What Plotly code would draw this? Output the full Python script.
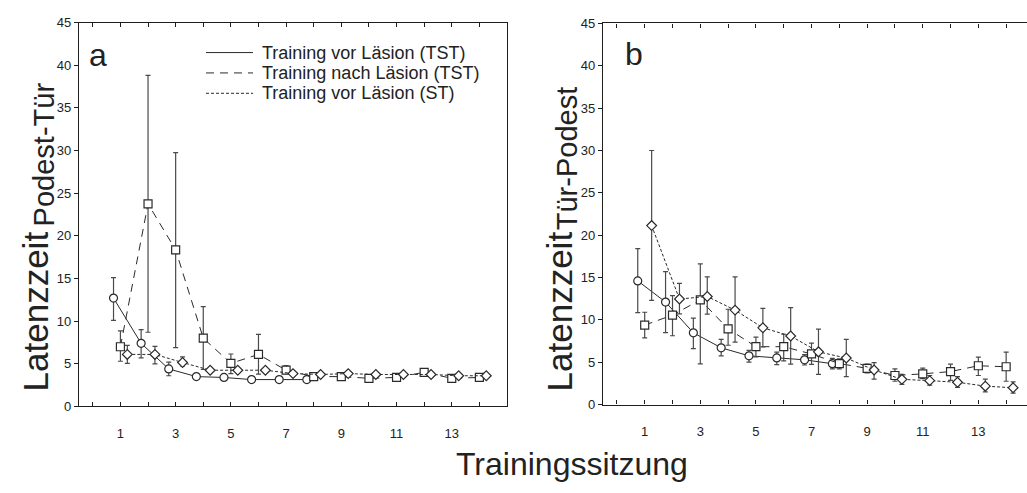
import plotly.graph_objects as go

W, H = 1027, 493

# ---------------- data ----------------
sessions_pre = [1, 2, 3, 4, 5, 6, 7, 8]
sessions_all = list(range(1, 15))

# panel a: Latenzzeit Podest-Tür
a_vor_tst = [12.7, 7.4, 4.4, 3.5, 3.4, 3.15, 3.15, 3.15]
a_vor_tst_hi = [15.1, 9.0, 5.2, 3.7, 3.6, 3.35, 3.35, 3.35]
a_vor_tst_lo = [10.1, 5.7, 3.6, 3.3, 3.2, 2.95, 2.95, 2.95]

a_nach_tst = [7.0, 23.75, 18.35, 8.0, 5.05, 6.1, 4.25, 3.5, 3.5, 3.3, 3.4, 4.0, 3.3, 3.4]
a_nach_tst_hi = [8.85, 38.8, 29.75, 11.7, 6.15, 8.45, 4.8, 3.7, 3.7, 3.5, 3.6, 4.3, 3.5, 3.6]
a_nach_tst_lo = [5.3, 8.7, 6.9, 4.35, 3.86, 3.8, 3.86, 3.3, 3.3, 3.1, 3.2, 3.7, 3.1, 3.2]

a_vor_st = [6.1, 6.1, 5.15, 4.25, 4.25, 4.25, 3.85, 3.75, 3.85, 3.75, 3.75, 3.75, 3.6, 3.6]
a_vor_st_hi = [7.15, 7.05, 5.8, 4.45, 4.45, 4.45, 4.05, 3.95, 4.05, 3.95, 3.95, 3.95, 3.8, 3.8]
a_vor_st_lo = [5.05, 5.0, 4.75, 4.05, 4.05, 4.05, 3.65, 3.55, 3.65, 3.55, 3.55, 3.55, 3.4, 3.4]

# panel b: Latenzzeit Tür-Podest
b_vor_tst = [14.6, 12.1, 8.47, 6.7, 5.75, 5.5, 5.28, 4.82]
b_vor_tst_hi = [18.4, 15.7, 10.2, 7.7, 6.4, 6.18, 5.9, 5.45]
b_vor_tst_lo = [10.85, 8.5, 6.6, 5.74, 5.0, 4.7, 4.67, 4.2]

b_nach_tst = [9.38, 10.56, 12.36, 8.94, 6.83, 6.83, 5.97, 4.84, 4.27, 3.43, 3.62, 3.89, 4.58, 4.46]
b_nach_tst_hi = [10.9, 12.85, 16.6, 11.25, 7.97, 8.3, 7.24, 5.4, 4.77, 4.2, 4.3, 4.77, 5.6, 6.18]
b_nach_tst_lo = [7.86, 8.12, 4.8, 7.0, 5.62, 5.15, 4.75, 4.2, 3.74, 2.75, 3.05, 2.86, 3.43, 2.75]

b_vor_st = [21.13, 12.46, 12.76, 11.15, 9.06, 8.09, 6.22, 5.49, 4.08, 2.97, 2.82, 2.63, 2.17, 1.98]
b_vor_st_hi = [30.0, 14.3, 15.07, 15.07, 11.36, 11.44, 8.9, 7.7, 4.95, 3.55, 3.43, 3.3, 3.0, 2.67]
b_vor_st_lo = [12.3, 10.7, 10.67, 7.36, 6.8, 4.77, 3.55, 3.3, 3.0, 2.37, 2.3, 2.02, 1.49, 1.34]

series_names = ["Training vor Läsion (TST)", "Training nach Läsion (TST)", "Training vor Läsion (ST)"]
x_ticks = list(range(0, 16))
x_tick_labels = [str(v) if v % 2 == 1 and v <= 13 else "" for v in x_ticks]
y_ticks = list(range(0, 50, 5))

# ---------------- styling ----------------
LINE = "#2a2a2a"
ERR = "#4a4a4a"
AX = "#1e1e1e"
FONT = "Liberation Sans, Arial, sans-serif"

styles = [
    dict(dash="solid", symbol="circle", size=8, offset=-0.25),
    dict(dash="8px,6px", symbol="square", size=8, offset=0.0),
    dict(dash="3px,2px", symbol="diamond", size=7.5, offset=0.25),
]


def px_x(p):
    return p / W


def px_y(p):
    return 1 - p / H


fig = go.Figure()


def add_series(xs, ys, hi, lo, st, xa, ya, name):
    fig.add_trace(go.Scatter(
        x=[v + st["offset"] for v in xs], y=ys,
        mode="lines+markers", name=name, showlegend=False,
        xaxis=xa, yaxis=ya,
        line=dict(color=LINE, width=1, dash=st["dash"]),
        marker=dict(symbol=st["symbol"], size=st["size"], color="white",
                    line=dict(color=LINE, width=1.2)),
        error_y=dict(type="data", symmetric=False,
                     array=[h - m for h, m in zip(hi, ys)],
                     arrayminus=[m - l for m, l in zip(ys, lo)],
                     color=ERR, thickness=1.2, width=2.5),
    ))


add_series(sessions_pre, a_vor_tst, a_vor_tst_hi, a_vor_tst_lo, styles[0], "x", "y", series_names[0])
add_series(sessions_all, a_nach_tst, a_nach_tst_hi, a_nach_tst_lo, styles[1], "x", "y", series_names[1])
add_series(sessions_all, a_vor_st, a_vor_st_hi, a_vor_st_lo, styles[2], "x", "y", series_names[2])

add_series(sessions_pre, b_vor_tst, b_vor_tst_hi, b_vor_tst_lo, styles[0], "x2", "y2", series_names[0])
add_series(sessions_all, b_nach_tst, b_nach_tst_hi, b_nach_tst_lo, styles[1], "x2", "y2", series_names[1])
add_series(sessions_all, b_vor_st, b_vor_st_hi, b_vor_st_lo, styles[2], "x2", "y2", series_names[2])

xcommon = dict(tickmode="array", tickvals=x_ticks, ticktext=x_tick_labels,
               ticks="inside", ticklen=4, tickcolor=AX, tickwidth=1,
               showline=True, linecolor=AX, linewidth=1.2, mirror="ticks",
               showgrid=False, zeroline=False, ticklabelstandoff=15,
               tickfont=dict(size=13, color="#222", family=FONT))
ycommon = dict(tickmode="array", tickvals=y_ticks, range=[0, 45],
               ticks="outside", ticklen=4, tickcolor=AX, tickwidth=1,
               showline=True, linecolor=AX, linewidth=1.2,
               showgrid=False, zeroline=False,
               tickfont=dict(size=13, color="#222", family=FONT))

fig.update_layout(
    width=W, height=H,
    margin=dict(l=0, r=0, t=0, b=0),
    paper_bgcolor="white", plot_bgcolor="white",
    font=dict(family=FONT, color="#222"),
    xaxis=dict(domain=[px_x(79), px_x(507)], range=[-0.5, 15.0], anchor="y", **xcommon),
    yaxis=dict(domain=[px_y(412), px_y(16)], anchor="x", mirror=True, **ycommon),
    xaxis2=dict(domain=[px_x(603), 1.0], range=[-0.5, 14.75], anchor="y2", **xcommon),
    yaxis2=dict(domain=[px_y(410), px_y(17)], anchor="x2", **ycommon),
)

ann = []


def text(x, y, s, size, angle=0, xanchor="center", yanchor="middle"):
    ann.append(dict(x=px_x(x), y=px_y(y), xref="paper", yref="paper", text=s,
                    showarrow=False, textangle=angle, xanchor=xanchor, yanchor=yanchor,
                    font=dict(size=size, family=FONT, color="#222")))


# panel letters
text(98, 50, "a", 32)
text(634, 48, "b", 32)
# y titles
text(35, 314, "Latenzzeit", 35, angle=-90)
text(44, 152, "Podest-Tür", 29, angle=-90)
text(559, 314, "Latenzzeit", 35, angle=-90)
text(567, 157, "Tür-Podest", 29, angle=-90)
# x title
text(572, 471, "Trainingssitzung", 32)

# legend (manual)
leg_rows = [47, 68, 89]
shapes = []
for name, st, yy in zip(series_names, styles, leg_rows):
    shapes.append(dict(type="line", xref="paper", yref="paper",
                       x0=px_x(206), x1=px_x(253), y0=px_y(yy), y1=px_y(yy),
                       line=dict(color=LINE, width=1, dash=st["dash"])))
    text(260, yy, name, 18, xanchor="left")

fig.update_layout(annotations=ann, shapes=shapes)

fig.write_html("out.html")
